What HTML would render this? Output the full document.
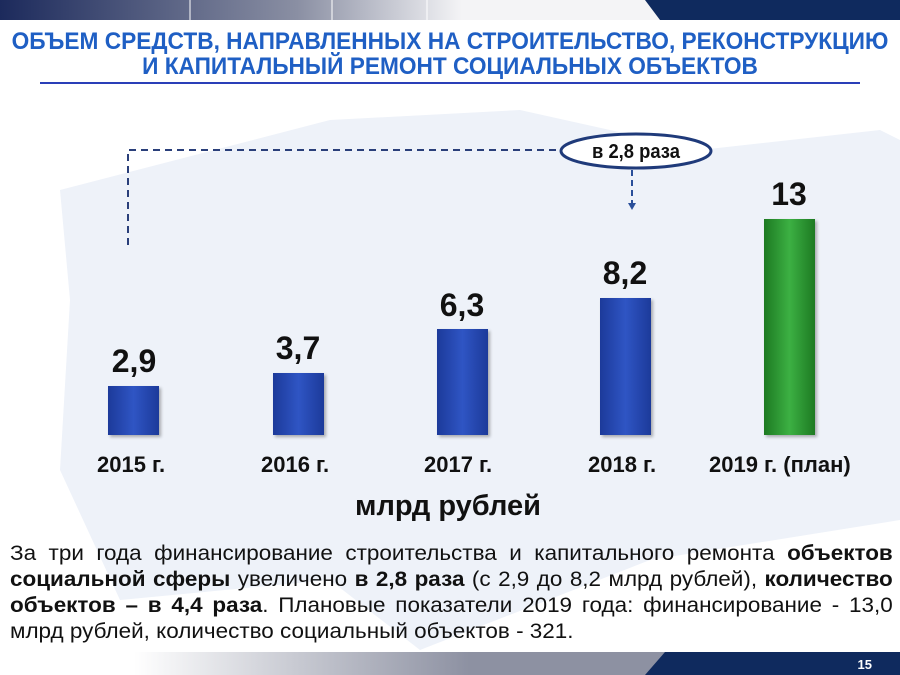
<!DOCTYPE html>
<html><head><meta charset="utf-8"><style>
body{margin:0;width:900px;height:675px;overflow:hidden;background:#fff;font-family:"Liberation Sans",sans-serif;position:relative}
.a{position:absolute}
.t{color:#1f5fc4;font-weight:bold;font-size:24px;text-align:center;width:1200px;left:-150px;transform:scaleX(0.945);transform-origin:600px 0;white-space:nowrap}
.bar{position:absolute;width:51px;background:linear-gradient(90deg,#1c3a9a,#2f55c4 50%,#1c3a9a);bottom:240px;box-shadow:2px 2px 3px rgba(0,0,0,.3)}
.v{position:absolute;font-weight:bold;font-size:32px;color:#111;width:100px;text-align:center}
.y{position:absolute;font-weight:bold;font-size:22px;color:#111;top:452px}
.p div{text-align:justify;text-align-last:justify;height:26px;white-space:nowrap}
.p{position:absolute;left:10px;top:541px;width:825px;font-size:21px;color:#111;line-height:26.5px;transform:scaleX(1.07);transform-origin:left top}
</style></head><body>
<svg class="a" style="left:0;top:0" width="900" height="675">
<defs>
<linearGradient id="tg" x1="0" x2="1"><stop offset="0" stop-color="#1c2a5c"/><stop offset="0.45" stop-color="#8a8fa3"/><stop offset="0.7" stop-color="#f4f4f6"/></linearGradient>
<linearGradient id="bg" x1="0" x2="1"><stop offset="0.2" stop-color="#fff"/><stop offset="0.7" stop-color="#8d91a2"/></linearGradient>
</defs>
<path d="M60 190 L330 120 L520 110 L700 150 L880 130 L900 140 L900 520 L650 560 L420 650 L330 580 L120 600 L60 470 L70 300Z" fill="#eef2f9"/>
<rect x="0" y="0" width="660" height="20" fill="url(#tg)"/>
<path d="M645 0 L900 0 L900 20 L660 20Z" fill="#0f2a5e"/>
<line x1="190" y1="0" x2="190" y2="20" stroke="#fff" stroke-width="1"/>
<line x1="332" y1="0" x2="332" y2="20" stroke="#fff" stroke-width="1"/>
<line x1="427" y1="0" x2="427" y2="20" stroke="#fff" stroke-width="1"/>
<line x1="40" y1="83" x2="860" y2="83" stroke="#2a3fb8" stroke-width="2"/>
<rect x="0" y="652" width="670" height="23" fill="url(#bg)"/>
<path d="M665 652 L900 652 L900 675 L645 675Z" fill="#0f2a5e"/>
<text x="872" y="669" font-size="13" font-weight="bold" fill="#fff" text-anchor="end" font-family="Liberation Sans">15</text>
<path d="M128 245 L128 150 L560 150" fill="none" stroke="#2a3f7a" stroke-width="2" stroke-dasharray="7,5"/>
<line x1="632" y1="170" x2="632" y2="203" stroke="#2a4f9a" stroke-width="2" stroke-dasharray="6,4"/>
<path d="M628 203 L636 203 L632 210Z" fill="#2a4f9a"/>
<ellipse cx="636" cy="151" rx="75" ry="17" fill="#fff" stroke="#1f3a7a" stroke-width="3"/>
<text x="636" y="158" font-size="20" font-weight="bold" fill="#111" text-anchor="middle" font-family="Liberation Sans" transform="translate(636 0) scale(0.92 1) translate(-636 0)">в 2,8 раза</text>
</svg>
<div class="a t" style="top:28px">ОБЪЕМ СРЕДСТВ, НАПРАВЛЕННЫХ НА СТРОИТЕЛЬСТВО, РЕКОНСТРУКЦИЮ</div>
<div class="a t" style="top:53px">И КАПИТАЛЬНЫЙ РЕМОНТ СОЦИАЛЬНЫХ ОБЪЕКТОВ</div>
<div class="bar" style="left:108px;height:49px"></div>
<div class="bar" style="left:273px;height:62px"></div>
<div class="bar" style="left:437px;height:106px"></div>
<div class="bar" style="left:600px;height:137px"></div>
<div class="bar" style="left:764px;height:216px;background:linear-gradient(90deg,#1d7a22,#3cb043 50%,#1d7a22)"></div>
<div class="v" style="left:84px;top:343px">2,9</div>
<div class="v" style="left:248px;top:330px">3,7</div>
<div class="v" style="left:412px;top:287px">6,3</div>
<div class="v" style="left:575px;top:255px">8,2</div>
<div class="v" style="left:739px;top:176px">13</div>
<div class="y" style="left:97px">2015 г.</div>
<div class="y" style="left:261px">2016 г.</div>
<div class="y" style="left:424px">2017 г.</div>
<div class="y" style="left:588px">2018 г.</div>
<div class="y" style="left:709px">2019 г. (план)</div>
<div class="a" style="left:355px;top:490px;font-size:29px;font-weight:bold;color:#111">млрд рублей</div>
<div class="p">
<div>За три года финансирование строительства и капитального ремонта <b>объектов</b></div>
<div><b>социальной сферы</b> увеличено <b>в 2,8 раза</b> (с 2,9 до 8,2 млрд рублей), <b>количество</b></div>
<div><b>объектов – в 4,4 раза</b>. Плановые показатели 2019 года: финансирование - 13,0</div>
<div style="text-align-last:left">млрд рублей, количество социальный объектов - 321.</div>
</div>
</body></html>
